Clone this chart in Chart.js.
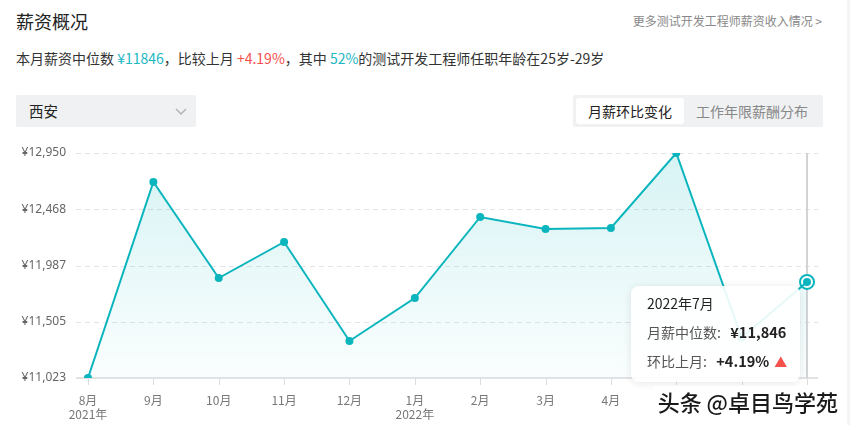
<!DOCTYPE html>
<html>
<head>
<meta charset="utf-8">
<script src="https://cdn.jsdelivr.net/npm/chart.js@4.4.1/dist/chart.umd.min.js"></script>
<style>
  html, body { margin: 0; padding: 0; background: #fff; }
  body { width: 850px; height: 425px; position: relative; overflow: hidden;
         font-family: "Noto Sans CJK SC", "Noto Sans", sans-serif; }
  .abs { position: absolute; white-space: nowrap; }
  #title { left: 16px; top: 8px; font-size: 18px; color: #222; line-height: 26px; }
  #more { right: 28px; top: 12px; font-size: 12px; color: #888; line-height: 18px; }
  #sub { left: 16px; top: 47px; font-size: 14px; color: #333; line-height: 22px; }
  .teal { color: #22b7c4; }
  .red { color: #f4514b; }
  #dd { left: 16px; top: 95px; width: 180px; height: 32px; background: #f0f1f3; border-radius: 2px; }
  #dd span { position: absolute; left: 13px; top: 5px; font-size: 14.5px; color: #222; line-height: 22px; }
  #dd svg { position: absolute; left: 159px; top: 13px; }
  #tabs { left: 573px; top: 95px; width: 250px; height: 32px; background: #f0f1f3; border-radius: 2px; }
  #tab1 { position: absolute; left: 3px; top: 3px; width: 108px; height: 26px; background: #fff; border-radius: 3px;
          font-size: 14px; color: #222; line-height: 26px; text-align: center; }
  #tab2 { position: absolute; left: 123px; top: 3px; font-size: 14px; color: #888; line-height: 26px; }
  #rightbar { right: 0; top: 0; width: 3px; height: 425px; background: #f4f4f6; }
  canvas#c { position: absolute; left: 0; top: 0; }
  #tip { width: 169px; height: 96px; background: rgba(255,255,255,0.9); border-radius: 8px;
         box-shadow: 0 1px 8px rgba(0,0,0,0.10); font-size: 14px; color: #555; }
  #tip .t { position: absolute; left: 16px; top: 6px; color: #222; line-height: 22px; }
  #tip .r1 { position: absolute; left: 16px; top: 35px; line-height: 22px; }
  #tip .r2 { position: absolute; left: 16px; top: 64px; line-height: 22px; }
  #tip b { color: #222; font-weight: 700; font-size: 14.5px; }
  #tip .tri { color: #f4514b; font-size: 13px; margin-left: 2px; }
  #wm { right: 8px; top: 386px; padding: 0 4px; font-size: 22px; line-height: 30px; color: #1a1a1a; background: #fff;
        font-weight: 500; text-shadow: 0 0 2px #fff; }
</style>
</head>
<body>
<div class="abs" id="title">薪资概况</div>
<div class="abs" id="more">更多测试开发工程师薪资收入情况 &gt;</div>
<div class="abs" id="sub">本月薪资中位数 <span class="teal">¥11846</span>，比较上月 <span class="red">+4.19%</span>，其中 <span class="teal">52%</span>的测试开发工程师任职年龄在25岁-29岁</div>
<div class="abs" id="dd"><span>西安</span>
  <svg width="12" height="8" viewBox="0 0 12 8"><polyline points="1,1 6,6 11,1" fill="none" stroke="#b5b5b5" stroke-width="1.5"/></svg>
</div>
<div class="abs" id="tabs"><div id="tab1">月薪环比变化</div><div id="tab2">工作年限薪酬分布</div></div>
<div class="abs" id="rightbar"></div>
<canvas id="c" width="850" height="425"></canvas>
<div class="abs" id="tip">
  <div class="t">2022年7月</div>
  <div class="r1">月薪中位数:&nbsp;&nbsp; <b>¥11,846</b></div>
  <div class="r2">环比上月:&nbsp;&nbsp; <b>+4.19%</b> <span class="tri">▲</span></div>
</div>
<div class="abs" id="wm">头条 @卓目鸟学苑</div>
<script>
const months = ["8月","9月","10月","11月","12月","1月","2月","3月","4月","5月","6月","7月"];
const years = ["2021年","","","","","2022年","","","","","",""];
const salary = [11023, 12702, 11879, 12188, 11340, 11708, 12402, 12299, 12308, 12950, 11369, 11846];
const yTickValues = [11023, 11504.75, 11986.5, 12468.25, 12950];
const yTickLabels = ["¥11,023","¥11,505","¥11,987","¥12,468","¥12,950"];
const activeIndex = 11;

const TEAL = "#0ab5bd";
const labels = months.map((m, i) => years[i] ? [m, years[i]] : m);
const ringData = salary.map((v, i) => i === activeIndex ? v : null);

const gridPlugin = {
  id: "customGrid",
  beforeDatasetsDraw(chart) {
    const { ctx, chartArea: a, scales: { x, y } } = chart;
    ctx.save();
    ctx.strokeStyle = "#e4e4e6";
    ctx.lineWidth = 1;
    ctx.setLineDash([5, 4]);
    yTickValues.forEach((v, i) => {
      if (i === 0) return;
      const py = Math.round(y.getPixelForValue(v)) + 0.5;
      ctx.beginPath(); ctx.moveTo(a.left - 12, py); ctx.lineTo(a.right + 11, py); ctx.stroke();
    });
    ctx.setLineDash([]);
    const by = y.getPixelForValue(yTickValues[0]);
    ctx.strokeStyle = "#e3e3e5";
    ctx.lineWidth = 2;
    ctx.beginPath(); ctx.moveTo(a.left - 12, by); ctx.lineTo(a.right + 11, by); ctx.stroke();
    ctx.lineWidth = 1;
    ctx.strokeStyle = "#dcdcdc";
    months.forEach((m, i) => {
      const px = Math.round(x.getPixelForValue(i)) + 0.5;
      ctx.beginPath(); ctx.moveTo(px, by + 1); ctx.lineTo(px, by + 7); ctx.stroke();
    });
    const cx = x.getPixelForValue(activeIndex);
    ctx.strokeStyle = "#d3d3d6";
    ctx.lineWidth = 2;
    ctx.beginPath(); ctx.moveTo(cx, y.getPixelForValue(yTickValues[4])); ctx.lineTo(cx, by); ctx.stroke();
    ctx.restore();
  },
  afterDraw(chart) {
    const { x, y } = chart.scales;
    const px = x.getPixelForValue(activeIndex);
    const py = y.getPixelForValue(salary[activeIndex]);
    const tip = document.getElementById("tip");
    tip.style.left = (px - 7 - 169) + "px";
    tip.style.top = (py + 4) + "px";
  }
};

const ctx = document.getElementById("c").getContext("2d");
new Chart(ctx, {
  type: "line",
  data: {
    labels: labels,
    datasets: [
      {
        data: salary,
        borderColor: TEAL,
        borderWidth: 2,
        pointRadius: 4,
        pointBackgroundColor: TEAL,
        pointBorderWidth: 0,
        tension: 0,
        fill: "start",
        backgroundColor: (c) => {
          const area = c.chart.chartArea;
          if (!area) return "rgba(10,181,189,0.1)";
          const g = c.chart.ctx.createLinearGradient(0, area.top, 0, area.bottom);
          g.addColorStop(0, "rgba(10,181,189,0.16)");
          g.addColorStop(1, "rgba(10,181,189,0.02)");
          return g;
        }
      },
      {
        data: ringData,
        showLine: false,
        pointRadius: 7,
        pointBackgroundColor: "#fff",
        pointBorderColor: TEAL,
        pointBorderWidth: 2,
        fill: false
      }
    ]
  },
  options: {
    responsive: false,
    animation: false,
    events: [],
    layout: { padding: { top: 153, right: 43, left: 0, bottom: 0 } },
    plugins: { legend: { display: false }, tooltip: { enabled: false } },
    scales: {
      x: {
        offset: false,
        grid: { display: false },
        border: { display: false },
        afterFit(s) { s.height = 47; },
        ticks: {
          autoSkip: false, maxRotation: 0, padding: 7,
          color: "#777", font: { family: "'Noto Sans CJK SC', 'Noto Sans', sans-serif", size: 12, lineHeight: 1.2 }
        }
      },
      y: {
        min: 11023, max: 12950,
        grid: { display: false },
        border: { display: false },
        afterFit(s) { s.width = 88; },
        afterBuildTicks(s) { s.ticks = yTickValues.map(v => ({ value: v })); },
        ticks: {
          padding: 14,
          color: "#666",
          font: { family: "'Noto Sans', 'Noto Sans CJK SC', sans-serif", size: 12 },
          callback: (v, i) => yTickLabels[i]
        }
      }
    }
  },
  plugins: [gridPlugin]
});
</script>
</body>
</html>
